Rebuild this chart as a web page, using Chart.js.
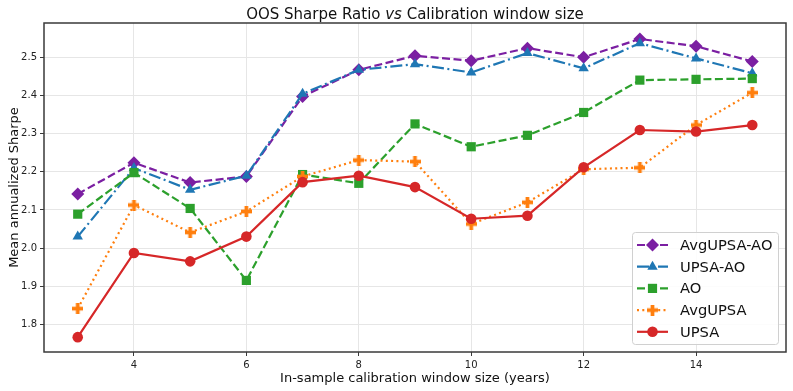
<!DOCTYPE html>
<html>
<head>
<meta charset="utf-8">
<script src="https://cdn.jsdelivr.net/npm/chart.js@4/dist/chart.umd.min.js"></script>
<style>
  html, body { margin: 0; padding: 0; background: #fff; }
  #wrap { width: 793px; height: 391px; position: relative; }
</style>
</head>
<body>
<div id="wrap"><canvas id="chart"></canvas></div>
<script>
// data
const years = [3, 4, 5, 6, 7, 8, 9, 10, 11, 12, 13, 14, 15];
const avgUpsaAo = [2.142, 2.224, 2.172, 2.188, 2.398, 2.468, 2.505, 2.492, 2.525, 2.501, 2.549, 2.530, 2.490];
const upsaAo = [2.030, 2.210, 2.153, 2.190, 2.405, 2.468, 2.483, 2.461, 2.512, 2.472, 2.538, 2.498, 2.459];
const ao = [2.089, 2.198, 2.104, 1.915, 2.193, 2.170, 2.326, 2.266, 2.296, 2.356, 2.441, 2.443, 2.445];
const avgUpsa = [1.841, 2.113, 2.041, 2.096, 2.188, 2.231, 2.227, 2.063, 2.120, 2.207, 2.211, 2.323, 2.408];
const upsa = [1.766, 1.987, 1.965, 2.030, 2.173, 2.190, 2.160, 2.077, 2.085, 2.212, 2.310, 2.306, 2.323];

const xTicks = [4, 6, 8, 10, 12, 14];
const yTicks = [1.8, 1.9, 2.0, 2.1, 2.2, 2.3, 2.4, 2.5];

const FONT = "'DejaVu Sans', sans-serif";

// filled plus marker (matplotlib "P")
function plusMarker(color, size) {
  const c = document.createElement("canvas");
  c.width = size; c.height = size;
  const g = c.getContext("2d");
  const a = size * 0.34, m = (size - a) / 2;
  g.fillStyle = color;
  g.fillRect(m, 0, a, size);
  g.fillRect(0, m, size, a);
  return c;
}

function pts(vals) {
  return vals.map((v, i) => ({ x: years[i], y: v }));
}

const series = [
  { label: "AvgUPSA-AO", data: avgUpsaAo, color: "#7b1fa2", dash: [8, 3.5], style: "rectRot", r: 6.5 },
  { label: "UPSA-AO", data: upsaAo, color: "#1f77b4", dash: [12, 3.5, 2, 3.5], style: "triangle", r: 6 },
  { label: "AO", data: ao, color: "#2ca02c", dash: [8, 3.5], style: "rect", r: 6.5 },
  { label: "AvgUPSA", data: avgUpsa, color: "#ff7f0e", dash: [2, 3.3], style: plusMarker("#ff7f0e", 11), r: 6 },
  { label: "UPSA", data: upsa, color: "#d62728", dash: [], style: "circle", r: 5.3 },
];

const datasets = series.map((s, i) => ({
  label: s.label,
  data: pts(s.data),
  borderColor: s.color,
  backgroundColor: s.color,
  borderWidth: 2.2,
  borderDash: s.dash,
  pointStyle: s.style,
  pointRadius: s.r,
  pointBorderWidth: 0,
  pointBackgroundColor: s.color,
  tension: 0,
  order: series.length - i,
}));

function text(ctx, str, x, y, font, align) {
  ctx.font = font;
  ctx.textAlign = align || "center";
  ctx.fillText(str, x, y);
}

const decorations = {
  id: "decorations",
  afterDraw(chart) {
    const ctx = chart.ctx;
    const a = chart.chartArea;
    const cx = (a.left + a.right) / 2;

    // frame
    ctx.save();
    ctx.strokeStyle = "#3a3a3a";
    ctx.lineWidth = 1.5;
    ctx.strokeRect(a.left, a.top, a.right - a.left, a.bottom - a.top);
    ctx.restore();

    ctx.save();
    ctx.fillStyle = "#111";
    ctx.textBaseline = "alphabetic";

    // title with italic "vs"
    const parts = [
      ["OOS Sharpe Ratio ", "15px " + FONT],
      ["vs", "italic 15px " + FONT],
      [" Calibration window size", "15px " + FONT],
    ];
    let total = 0;
    parts.forEach(p => { ctx.font = p[1]; total += ctx.measureText(p[0]).width; });
    let tx = cx - total / 2;
    parts.forEach(p => {
      text(ctx, p[0], tx, 19, p[1], "left");
      tx += ctx.measureText(p[0]).width;
    });

    // axis titles
    text(ctx, "In-sample calibration window size (years)", cx, 382, "13px " + FONT, "center");
    ctx.translate(18, (a.top + a.bottom) / 2);
    ctx.rotate(-Math.PI / 2);
    text(ctx, "Mean annualized Sharpe", 0, 0, "13px " + FONT, "center");
    ctx.restore();

    // legend
    const lx = 632, ly = 232, lw = 146, lh = 112;
    ctx.save();
    ctx.fillStyle = "rgba(255,255,255,0.85)";
    ctx.strokeStyle = "#d0d0d0";
    ctx.lineWidth = 1;
    ctx.beginPath();
    ctx.roundRect(lx + 0.5, ly + 0.5, lw, lh, 3);
    ctx.fill();
    ctx.stroke();
    ctx.restore();

    series.forEach((s, i) => {
      const y = ly + 13 + i * 21.7;
      ctx.save();
      ctx.strokeStyle = s.color;
      ctx.lineWidth = 2.2;
      ctx.setLineDash(s.dash);
      ctx.beginPath();
      ctx.moveTo(637, y);
      ctx.lineTo(668, y);
      ctx.stroke();
      ctx.setLineDash([]);
      ctx.fillStyle = s.color;
      ctx.strokeStyle = s.color;
      Chart.helpers.drawPoint(ctx, { pointStyle: s.style, radius: s.r, borderWidth: 0 }, 652.5, y);
      ctx.fillStyle = "#111";
      ctx.textBaseline = "middle";
      text(ctx, s.label, 680, y + 1, "14.7px " + FONT, "left");
      ctx.restore();
    });
  }
};

new Chart(document.getElementById("chart"), {
  type: "line",
  data: { datasets: datasets },
  options: {
    responsive: true,
    maintainAspectRatio: false,
    animation: false,
    layout: { padding: { top: 23, right: 7, left: 0, bottom: 0 } },
    plugins: { legend: { display: false }, title: { display: false }, tooltip: { enabled: false } },
    scales: {
      x: {
        type: "linear",
        min: 2.4,
        max: 15.6,
        afterBuildTicks: (s) => { s.ticks = xTicks.map(v => ({ value: v })); },
        afterFit: (s) => { s.height = 39; },
        grid: { color: "#e6e6e6", tickColor: "#3a3a3a", tickLength: 4, lineWidth: 1 },
        border: { display: false },
        ticks: { color: "#222", font: { family: FONT, size: 10 }, padding: 3, maxRotation: 0 },
      },
      y: {
        type: "linear",
        min: 1.727,
        max: 2.591,
        afterBuildTicks: (s) => { s.ticks = yTicks.map(v => ({ value: v })); },
        afterFit: (s) => { s.width = 44; },
        grid: { color: "#e6e6e6", tickColor: "#3a3a3a", tickLength: 4, lineWidth: 1 },
        border: { display: false },
        ticks: { color: "#222", font: { family: FONT, size: 10 }, padding: 3, callback: (v) => v.toFixed(1) },
      },
    },
  },
  plugins: [decorations],
});
</script>
</body>
</html>
